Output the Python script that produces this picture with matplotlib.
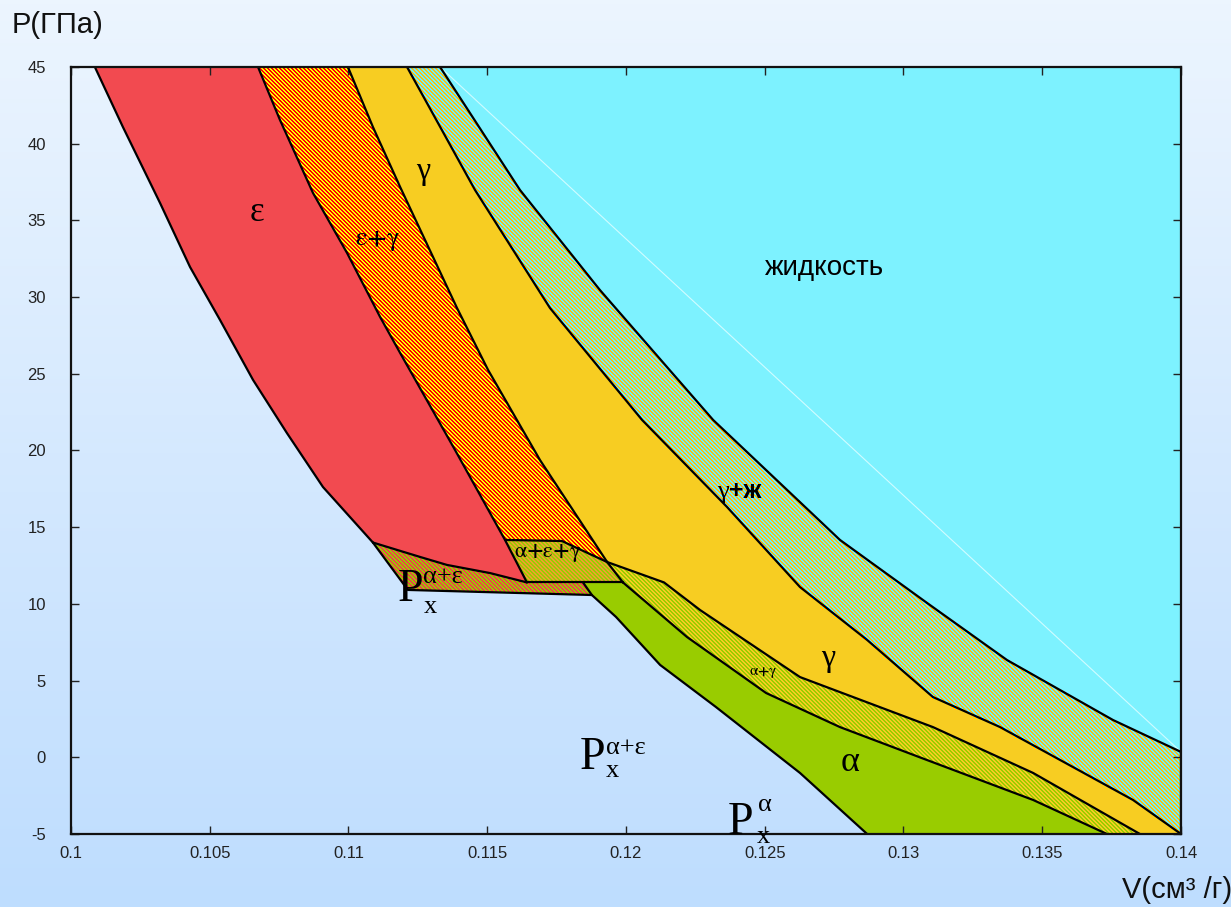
import numpy as np
import matplotlib
matplotlib.use("Agg")
import matplotlib.pyplot as plt
from matplotlib.patches import Polygon
from matplotlib.colors import to_rgb

plt.rcParams['mathtext.fontset'] = 'stix'
plt.rcParams['axes.unicode_minus'] = False

# ---------------- data (V in cm^3/g, P in GPa) ----------------
eps_left_V = [0.10086, 0.10187, 0.10321, 0.10429, 0.10537, 0.10656, 0.10778, 0.10908, 0.11088]
eps_left_P = [45, 41.09, 36.13, 31.96, 28.51, 24.60, 21.14, 17.62, 14.0]

eps_right_V = [0.10674, 0.10753, 0.10872, 0.10995, 0.11114, 0.11186, 0.11384, 0.11564, 0.11643]
eps_right_P = [45, 41.55, 36.79, 32.87, 28.70, 26.36, 20.03, 14.17, 11.4]

gamma_left_V = [0.10998, 0.11088, 0.11186, 0.11391, 0.11503, 0.11690, 0.11932]
gamma_left_P = [45, 41.09, 37.18, 29.29, 25.25, 19.38, 12.73]

gamma_right_V = [0.11211, 0.11456, 0.11726, 0.12058, 0.12364, 0.12627, 0.12869, 0.13106, 0.13348, 0.13827, 0.14]
gamma_right_P = [45, 36.98, 29.29, 21.99, 16.32, 11.10, 7.65, 3.93, 1.97, -2.78, -5]

liquid_left_V = [0.11330, 0.11618, 0.11906, 0.12314, 0.12771, 0.13085, 0.13373, 0.13755, 0.14]
liquid_left_P = [45, 36.98, 30.46, 21.99, 14.17, 10.06, 6.34, 2.43, 0.35]

gamma_lower_V = [0.11932, 0.12137, 0.12267, 0.12627, 0.13106, 0.13467, 0.13852]
gamma_lower_P = [12.73, 11.4, 9.60, 5.23, 1.97, -1.02, -5]

alpha_right_V = [0.11989, 0.12220, 0.12505, 0.12771, 0.13085, 0.13467, 0.13733]
alpha_right_P = [11.4, 7.84, 4.19, 1.97, -0.18, -2.78, -5]

alpha_left_V = [0.11845, 0.11877, 0.11964, 0.12123, 0.12324, 0.12627, 0.12869]
alpha_left_P = [11.4, 10.58, 9.15, 6.02, 3.28, -1.02, -5]

eps_bottom_V = [0.11088, 0.11258, 0.11355, 0.11510, 0.11643]
eps_bottom_P = [14.0, 13.06, 12.54, 12.01, 11.4]

aeps_lower_V = [0.11088, 0.11214, 0.11877]
aeps_lower_P = [14.0, 10.91, 10.58]

box_top_V = [0.11564, 0.11769, 0.11932]
box_top_P = [14.17, 14.10, 12.73]
box_bottom_V = [0.11643, 0.11989]
box_bottom_P = [11.4, 11.4]

V_MIN, V_MAX, P_MIN, P_MAX = 0.10, 0.14, -5, 45
x_ticks = [0.1, 0.105, 0.11, 0.115, 0.12, 0.125, 0.13, 0.135, 0.14]
x_tick_labels = ['0.1', '0.105', '0.11', '0.115', '0.12', '0.125', '0.13', '0.135', '0.14']
y_ticks = [-5, 0, 5, 10, 15, 20, 25, 30, 35, 40, 45]

# colours
RED = '#F24A50'
YEL = '#F7CD22'
GRN = '#99CC00'
CYA = '#7DF2FF'

W_PX, H_PX, DPI = 1231, 907, 100
AX_L, AX_T, AX_W, AX_H = 71, 67, 1110, 767   # axes box in pixels

def pts(V, P):
    return list(zip(V, P))

fig = plt.figure(figsize=(W_PX / DPI, H_PX / DPI), dpi=DPI)

# background gradient
bg = fig.add_axes([0, 0, 1, 1], zorder=-10)
top = np.array([236, 245, 254]) / 255
bot = np.array([190, 221, 254]) / 255
t = np.linspace(0, 1, 256)[:, None]
grad = top[None, :] * (1 - t) + bot[None, :] * t
bg.imshow(grad[:, None, :], aspect='auto', extent=[0, 1, 0, 1])
bg.axis('off')

ax = fig.add_axes([AX_L / W_PX, 1 - (AX_T + AX_H) / H_PX, AX_W / W_PX, AX_H / H_PX])
ax.set_facecolor('none')

# pixel-exact diagonal stripe texture (2 px / 2 px, running down-right)
rows = np.arange(AX_H)[:, None]
cols = np.arange(AX_W)[None, :]
stripe_mask = ((rows - cols) % 4) < 2

def region(points, face, stripe_col=None):
    p = Polygon(points, closed=True, facecolor=face, edgecolor='none', lw=0, zorder=1)
    ax.add_patch(p)
    if stripe_col is not None:
        img = np.where(stripe_mask[..., None], np.array(to_rgb(stripe_col)), np.array(to_rgb(face)))
        im = ax.imshow(img, extent=(V_MIN, V_MAX, P_MIN, P_MAX), origin='upper',
                       interpolation='nearest', aspect='auto', zorder=1.5)
        im.set_clip_path(p)

# liquid
liq = pts(liquid_left_V, liquid_left_P) + [(V_MAX, P_MAX)]
region(liq, CYA)
# gamma + liquid
gl = pts(gamma_right_V, gamma_right_P) + [(V_MAX, liquid_left_P[-1])] + pts(liquid_left_V, liquid_left_P)[::-1]
region(gl, '#6FF0FF', '#F7C21A')
# gamma
g = pts(gamma_left_V, gamma_left_P) + pts(gamma_lower_V, gamma_lower_P)[1:] + pts(gamma_right_V, gamma_right_P)[::-1]
region(g, YEL)
# eps + gamma
eg = pts(eps_right_V, eps_right_P)[:-1] + pts(box_top_V, box_top_P)[1:] + pts(gamma_left_V, gamma_left_P)[::-1][1:]
region(eg, '#FFFF00', '#FF0000')
# eps
e = pts(eps_left_V, eps_left_P) + pts(eps_bottom_V, eps_bottom_P)[1:] + pts(eps_right_V, eps_right_P)[::-1][1:]
region(e, RED)
# alpha + eps + gamma box
bx = pts(box_top_V, box_top_P) + pts(box_bottom_V, box_bottom_P)[::-1]
region(bx, '#F0A030', GRN)
# alpha + eps
ae = pts(eps_bottom_V, eps_bottom_P) + pts(alpha_left_V[:2], alpha_left_P[:2]) + pts(aeps_lower_V, aeps_lower_P)[::-1][1:]
region(ae, '#F0404A', GRN)
# alpha + gamma
ag = pts(gamma_lower_V, gamma_lower_P) + pts(alpha_right_V, alpha_right_P)[::-1]
region(ag, YEL, GRN)
# alpha
a = pts(alpha_left_V, alpha_left_P) + pts(alpha_right_V, alpha_right_P)[::-1]
region(a, GRN)

ax.set_xlim(V_MIN, V_MAX)
ax.set_ylim(P_MIN, P_MAX)

# thin diagonal artefact inside liquid
ax.plot([liquid_left_V[0], liquid_left_V[-1]], [liquid_left_P[0], liquid_left_P[-1]],
        color='#E6FFFF', lw=0.8, alpha=0.8, zorder=3)

LW = 1.6
for V, P in [(eps_left_V, eps_left_P), (eps_right_V, eps_right_P), (gamma_left_V, gamma_left_P),
             (gamma_right_V, gamma_right_P), (liquid_left_V, liquid_left_P),
             (gamma_lower_V, gamma_lower_P), (alpha_right_V, alpha_right_P),
             (alpha_left_V, alpha_left_P), (eps_bottom_V, eps_bottom_P),
             (aeps_lower_V, aeps_lower_P), (box_top_V, box_top_P), (box_bottom_V, box_bottom_P)]:
    ax.plot(V, P, color='black', lw=LW, zorder=4, solid_joinstyle='round', solid_capstyle='round')
ax.plot([box_top_V[-1], box_bottom_V[-1]], [box_top_P[-1], box_bottom_P[-1]], color='black', lw=LW, zorder=4)
ax.plot([V_MAX, V_MAX], [liquid_left_P[-1], P_MIN], color='black', lw=LW, zorder=4)

# ticks / spines
ax.set_xticks(x_ticks)
ax.set_xticklabels(x_tick_labels)
ax.set_yticks(y_ticks)
ax.tick_params(direction='in', length=6, width=1.0, top=True, right=True,
               labelsize=12, colors='#222222')
ax.tick_params(axis='y', pad=18)
ax.tick_params(axis='x', pad=9)
for lab in ax.get_xticklabels() + ax.get_yticklabels():
    lab.set_fontfamily('Liberation Sans')
for s in ax.spines.values():
    s.set_linewidth(1.6)
    s.set_color('#111111')
    s.set_zorder(5)

# region labels
serif = 'Liberation Serif'
kw = dict(ha='center', va='center', zorder=6)
ax.text(0.10670, 35.50, 'ε', fontsize=25, family=serif, **kw)
ax.text(0.11106, 33.72, r'$\mathrm{ε}\mathbf{+}\mathrm{γ}$', fontsize=19, **kw)
ax.text(0.11268, 38.16, 'γ', fontsize=23, family=serif, **kw)
ax.text(0.12714, 31.90, 'жидкость', fontsize=20, family='Liberation Sans', **kw)
# γ+ж : serif gamma + bold sans "+ж", sharing one baseline
ax.text(0.12371, 16.9, 'γ', fontsize=19, family=serif, ha='right', va='baseline', zorder=6)
ax.text(0.12371, 16.9, '+ж', fontsize=18, family='Liberation Sans', weight='bold',
        ha='left', va='baseline', zorder=6)
ax.text(0.11719, 13.32, r'$\mathrm{α}\mathbf{+}\mathrm{ε}\mathbf{+}\mathrm{γ}$', fontsize=16, **kw)
ax.text(0.12494, 5.56, r'$\mathrm{α}\mathbf{+}\mathrm{γ}$', fontsize=11, **kw)
ax.text(0.12728, 6.47, 'γ', fontsize=23, family=serif, **kw)
ax.text(0.12807, -0.31, 'α', fontsize=26, family=serif, **kw)

# P_x labels (big P, subscript x, superscript phases)
def plabel(vp, pp, vsup, psup, sup, vsub, psub):
    ax.text(vp, pp, 'P', fontsize=33, family=serif, ha='left', va='baseline', zorder=6)
    ax.text(vsup, psup, sup, fontsize=19, family=serif, ha='left', va='baseline', zorder=6)
    ax.text(vsub, psub, 'x', fontsize=19, family=serif, ha='left', va='baseline', zorder=6)

plabel(0.11178, 10.19, 0.11270, 11.36, 'α+ε', 0.11270, 9.41)
plabel(0.11834, -0.76, 0.11928, 0.21, 'α+ε', 0.11926, -1.28)
plabel(0.12368, -5.00, 0.12474, -3.50, 'α', 0.12470, -5.59)

# axis titles
fig.text(12 / W_PX, 1 - 33 / H_PX, 'P(ГПа)', fontsize=21, family='Liberation Sans',
         ha='left', va='baseline', color='#111111')
fig.text(1122 / W_PX, 1 - 898 / H_PX, 'V(см³ /г)', fontsize=21, family='Liberation Sans',
         ha='left', va='baseline', color='#111111')

fig.savefig('out.png', dpi=DPI)
